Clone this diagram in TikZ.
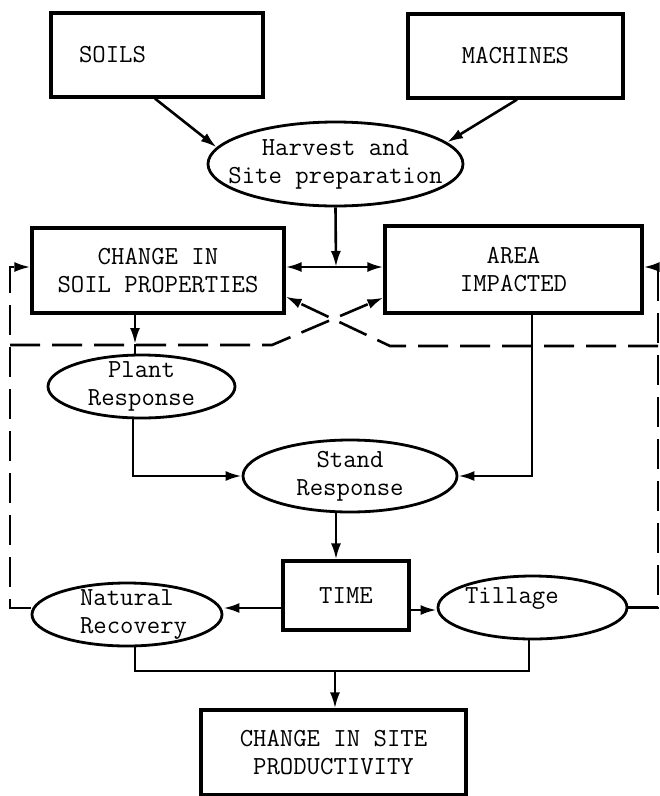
\documentclass[tikz,border=0pt]{standalone}
\usetikzlibrary{shapes.geometric,arrows.meta}
\begin{document}
\begin{tikzpicture}[x=1pt,y=-1pt,
  font=\fontsize{26}{28}\selectfont\ttfamily,
  box/.style={draw, rectangle, line width=3.2pt, inner sep=0pt, align=center},
  oval/.style={draw, ellipse, line width=2.8pt, inner xsep=-30pt, inner ysep=-14pt, align=center},
  conn/.style={line width=2.6pt},
  arr/.style={conn, -{Latex[length=16pt,width=10pt]}},
  dsh/.style={line width=2.6pt, dash pattern=on 30pt off 12pt},
  darr/.style={dsh, -{Latex[length=16pt,width=10pt]}}]
\fill[white] (0,0) rectangle (660,796);
\useasboundingbox (0,0) rectangle (660,796);

% nodes
\node[box, minimum width=212pt, minimum height=84pt, text width=156pt, align=left] (soils) at (157,55) {SOILS};
\node[box, minimum width=215pt, minimum height=84pt] (machines) at (515.5,56) {MACHINES};
\node[oval, minimum width=255pt, minimum height=84pt] (harvest) at (335.5,164) {Harvest and\\Site preparation};
\node[box, minimum width=252pt, minimum height=85pt] (csp) at (158,270.5) {CHANGE IN\\SOIL PROPERTIES};
\node[box, minimum width=257pt, minimum height=87pt] (area) at (513.5,269.5) {AREA\\IMPACTED};
\node[oval, minimum width=187pt, minimum height=63pt] (plant) at (141.5,386.5) {Plant\\Response};
\node[oval, minimum width=214pt, minimum height=72pt] (stand) at (350,476) {Stand\\Response};
\node[box, minimum width=126pt, minimum height=69pt] (time) at (346,595.5) {TIME};
\node[oval, minimum width=190pt, minimum height=63pt, text width=94pt, align=left] (natural) at (127,614.5) {Natural\\Recovery};
\node[oval, minimum width=189pt, minimum height=63pt, text width=135pt, align=left] (tillage) at (532.5,607.5) {\raisebox{9pt}[\height][\depth]{Tillage}};
\node[box, minimum width=265pt, minimum height=85pt] (prod) at (333.5,752.5) {CHANGE IN SITE\\PRODUCTIVITY};

% coordinates
\coordinate (j) at (336,267);
\coordinate (c1) at (135,344);
\coordinate (p1) at (133,476);
\coordinate (a1) at (532,476);
\coordinate (s1) at (336,540);
\coordinate (t1) at (0,608);
\coordinate (t2) at (0,610);
\coordinate (jb) at (335,671);
\coordinate (n1) at (135,0);
\coordinate (l1) at (529,0);
\coordinate (lc) at (10,267);
\coordinate (nl) at (10,608);
\coordinate (ll) at (10,345);
\coordinate (la) at (272,345);
\coordinate (rc) at (658,267);
\coordinate (rr) at (658,346);
\coordinate (ra) at (390,346);

% solid connectors
\draw[arr] ([xshift=-2pt]soils.south) -- (harvest.172);
\draw[arr] ([xshift=1.5pt]machines.south) -- (harvest.11);
\draw[arr] (harvest.south) -- (j);
\draw[arr] (j) -- (j -| csp.east);
\draw[arr] (j) -- (j -| area.west);
\draw[arr] (c1 |- csp.south) -- (c1);
\draw[conn] (c1) -- (c1 |- plant.north);
\draw[arr] (p1 |- plant.south) -- (p1) -- (stand.west);
\draw[arr] (a1 |- area.south) -- (a1) -- (stand.east);
\draw[arr] (s1 |- stand.south) -- (s1 |- time.north);
\draw[arr] (t1 -| time.west) -- (t1 -| natural.east);
\draw[arr] (t2 -| time.east) -- (t2 -| tillage.west);
\draw[conn] (n1 |- natural.south) |- (jb) -| (l1 |- tillage.south);
\draw[arr] (jb) -- (jb |- prod.north);

% dashed feedback
\draw[darr] (nl -| natural.west) -- (nl) -- (lc) -- (lc -| csp.west);
\draw[darr] (ll) -- (la) -- ([yshift=17pt]area.south west);
\draw[darr] (tillage.east) -- (tillage.east -| rc) -- (rc) -- (rc -| area.east);
\draw[darr] (rr) -- (ra) -- ([yshift=18pt]csp.south east);
\end{tikzpicture}
\end{document}
